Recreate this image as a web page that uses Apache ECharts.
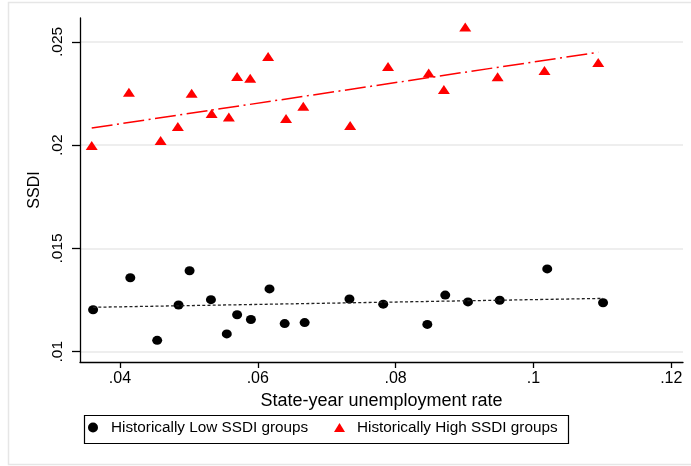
<!DOCTYPE html>
<html>
<head>
<meta charset="utf-8">
<script src="https://cdn.jsdelivr.net/npm/echarts@6/dist/echarts.min.js"></script>
<style>
  html, body { margin: 0; padding: 0; background: #fff; }
  #chart { width: 691px; height: 466px; }
</style>
</head>
<body>
<div id="chart"></div>
<script>
// state-year unemployment rate (x) vs SSDI (y), two groups
const lowX = [0.0361, 0.0415, 0.0454, 0.0485, 0.0501, 0.0532, 0.0555, 0.0570, 0.0590, 0.0617,
              0.0639, 0.0668, 0.0733, 0.0782, 0.0846, 0.0872, 0.0905, 0.0951, 0.1020, 0.1101];
const lowY = [0.01203, 0.01358, 0.01055, 0.01226, 0.01392, 0.01252, 0.01086, 0.01179, 0.01156, 0.01304,
              0.01136, 0.01141, 0.01255, 0.01230, 0.01132, 0.01274, 0.01241, 0.01249, 0.01401, 0.01237];

const highX = [0.0359, 0.0413, 0.0459, 0.0484, 0.0504, 0.0533, 0.0558, 0.0570, 0.0589, 0.0615,
               0.0641, 0.0666, 0.0734, 0.0789, 0.0848, 0.0870, 0.0901, 0.0948, 0.1016, 0.1094];
const highY = [0.01999, 0.02256, 0.02023, 0.02091, 0.02251, 0.02153, 0.02137, 0.02333, 0.02324, 0.02430,
               0.02129, 0.02188, 0.02095, 0.02381, 0.02350, 0.02270, 0.02573, 0.02331, 0.02362, 0.02400];

// linear fit lines (end points)
const lowFitX = [0.0361, 0.1101];
const lowFitY = [0.01215, 0.01258];
const highFitX = [0.0359, 0.1094];
const highFitY = [0.02083, 0.02450];

const xTicks = [0.04, 0.06, 0.08, 0.1, 0.12];
const yTicks = [0.01, 0.015, 0.02, 0.025];

const lowName = 'Historically Low SSDI groups';
const highName = 'Historically High SSDI groups';

const FONT = '"Liberation Sans", Arial, sans-serif';

const zip = (xs, ys) => xs.map((x, i) => [x, ys[i]]);
const fmt = (v) => String(+(+v).toFixed(4)).replace(/^0\./, '.');

const chart = echarts.init(document.getElementById('chart'), null, { renderer: 'canvas' });

chart.setOption({
  animation: false,
  backgroundColor: '#fff',
  textStyle: { fontFamily: FONT },
  grid: { left: 80, right: 8, top: 18, bottom: 104, containLabel: false, outerBoundsMode: 'none' },
  xAxis: {
    type: 'value',
    min: 0.0342,
    max: 0.1217,
    name: 'State-year unemployment rate',
    nameLocation: 'middle',
    nameGap: 21,
    nameTextStyle: { fontSize: 18, color: '#000', fontFamily: FONT },
    axisLine: { show: true, onZero: false, lineStyle: { color: '#000', width: 1.3 } },
    axisTick: { show: true, length: 6, lineStyle: { color: '#000', width: 1.3 }, customValues: xTicks },
    axisLabel: { fontSize: 16, color: '#000', margin: 9, customValues: xTicks, formatter: fmt },
    splitLine: { show: false }
  },
  yAxis: {
    type: 'value',
    min: 0.0095,
    max: 0.02616,
    name: 'SSDI',
    nameLocation: 'middle',
    nameGap: 32,
    nameTextStyle: { fontSize: 16, color: '#000', fontFamily: FONT },
    axisLine: { show: true, onZero: false, lineStyle: { color: '#000', width: 1.3 } },
    axisTick: { show: true, length: 8, lineStyle: { color: '#000', width: 1.3 }, customValues: yTicks },
    axisLabel: { fontSize: 15.5, color: '#000', rotate: 90, margin: 14, customValues: yTicks, formatter: fmt },
    splitLine: { show: true, lineStyle: { color: '#e8e8e8', width: 1.5 } }
  },
  legend: [
    {
      data: [{ name: lowName, icon: 'circle' }],
      left: 88, top: 420, padding: 0,
      itemWidth: 10, itemHeight: 10, selectedMode: false,
      textStyle: { fontSize: 15.3, color: '#000', fontFamily: FONT, padding: [0, 0, 0, 8] }
    },
    {
      data: [{ name: highName, icon: 'triangle' }],
      left: 334, top: 420, padding: 0,
      itemWidth: 11, itemHeight: 9, selectedMode: false,
      textStyle: { fontSize: 15.3, color: '#000', fontFamily: FONT, padding: [0, 0, 0, 7] }
    }
  ],
  graphic: [
    { type: 'rect', silent: true, z: -10,
      shape: { x: 8.5, y: 2.5, width: 720, height: 462 },
      style: { fill: 'none', stroke: '#e6e6e6', lineWidth: 1.5 } },
    { type: 'rect', silent: true,
      shape: { x: 84.5, y: 415.5, width: 484, height: 28 },
      style: { fill: 'none', stroke: '#000', lineWidth: 1.2 } }
  ],
  series: [
    {
      name: lowName,
      type: 'scatter',
      symbol: 'circle',
      symbolSize: [10, 9],
      itemStyle: { color: '#000', opacity: 1 },
      data: zip(lowX, lowY)
    },
    {
      name: highName,
      type: 'scatter',
      symbol: 'triangle',
      symbolSize: [12, 9],
      itemStyle: { color: '#ff0000', opacity: 1 },
      data: zip(highX, highY)
    },
    {
      type: 'line',
      symbol: 'none',
      silent: true,
      z: 3,
      lineStyle: { color: '#222', width: 1.3, type: [3, 2.2] },
      data: zip(lowFitX, lowFitY)
    },
    {
      type: 'line',
      symbol: 'none',
      silent: true,
      z: 3,
      lineStyle: { color: '#ff0000', width: 1.5, type: [21, 4.5, 2, 4.5] },
      data: zip(highFitX, highFitY)
    }
  ]
});
</script>
</body>
</html>
